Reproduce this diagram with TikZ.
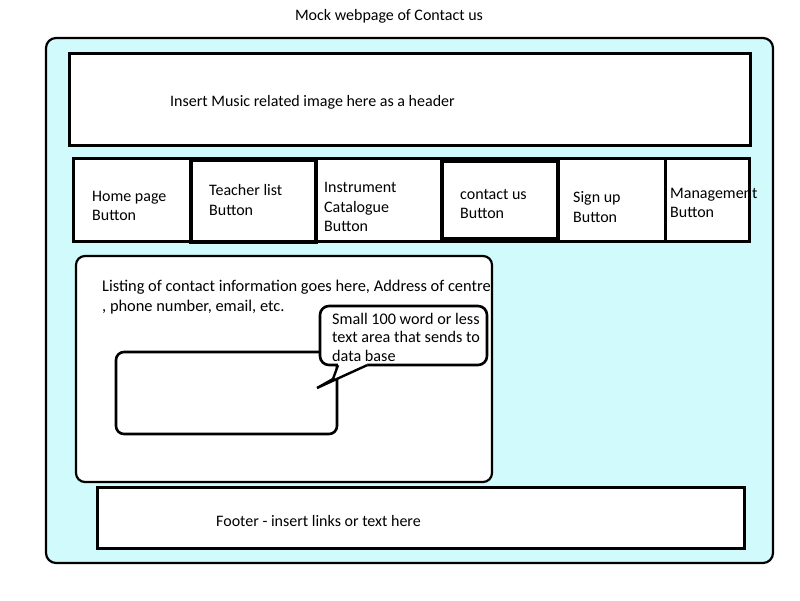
\documentclass[tikz,border=0pt]{standalone}
\usepackage{fontspec}
\setmainfont{Carlito}
\definecolor{pagecyan}{RGB}{208,250,252}
\begin{document}
\begin{tikzpicture}[x=1pt,y=-1pt,
  box/.style={draw=black,fill=white,line width=3pt,anchor=north west,inner sep=0pt,outer sep=0pt},
  thickbox/.style={box,line width=3.6pt},
  roundbox/.style={box,rounded corners=9pt,line width=2.2pt},
  lbl/.style={anchor=west,align=left,inner sep=0pt,font=\fontsize{16}{19.8}\selectfont}
]
\useasboundingbox (0,0) rectangle (800,600);
% outer page
\node[box,fill=pagecyan,rounded corners=10pt,line width=2.2pt,minimum width=727pt,minimum height=525pt] (page) at (46,38) {};
% header
\node[box,minimum width=681pt,minimum height=92pt] (header) at (69,53) {};
% navigation
\node[box,minimum width=676pt,minimum height=83pt] (nav) at (73,158) {};
\node[box,minimum width=118pt,minimum height=83pt] (home) at (73,158) {};
\node[box,minimum width=126pt,minimum height=83pt] (instr) at (316,158) {};
\node[box,minimum width=107pt,minimum height=83pt] (signup) at (558,158) {};
\node[box,minimum width=84pt,minimum height=83pt] (mgmt) at (665,158) {};
\node[thickbox,minimum width=125pt,minimum height=82pt] (teacher) at (191,160) {};
\node[thickbox,minimum width=116pt,minimum height=78pt] (contact) at (442,161) {};
% contact information box
\node[roundbox,minimum width=416pt,minimum height=226pt] (info) at (76,256) {};
% text area
\node[roundbox,line width=2.6pt,rounded corners=8pt,minimum width=221pt,minimum height=82pt] (textarea) at (116,352) {};
% callout
\node[roundbox,line width=2.6pt,rounded corners=9pt,minimum width=167pt,minimum height=59pt] (callout) at (320,306) {};
\fill[white] (338,362) -- (338,366.6) -- (317,388) -- (367,366.6) -- (367,362) -- cycle;
\draw[line width=2.4pt,line join=miter] (338,365.2) -- (333,379) -- (317,388) -- (367,365.2);
% footer
\node[box,minimum width=647pt,minimum height=61pt] (footer) at (97,487) {};
% texts
\node[lbl,anchor=center] (title) at (389,16) {Mock webpage of Contact us};
\node[lbl] (headertext) at (170,102) {Insert Music related image here as a header};
\node[lbl] (hometext) at (92,206) {Home page\\Button};
\node[lbl] (teachertext) at (209,200) {Teacher list\\Button};
\node[lbl] (instrtext) at (324,207) {Instrument\\Catalogue\\Button};
\node[lbl] (contacttext) at (460,204) {contact us\\Button};
\node[lbl] (signuptext) at (573,207) {Sign up\\Button};
\node[lbl] (mgmttext) at (670,203) {Management\\Button};
\node[lbl,font=\fontsize{16.4}{20}\selectfont] (infotext) at (102,297) {Listing of contact information goes here, Address of centre\\, phone number, email, etc.};
\node[lbl,font=\fontsize{16.2}{18.5}\selectfont] (callouttext) at (332,337) {Small 100 word or less\\text area that sends to\\data base};
\node[lbl] (footertext) at (216,521) {Footer - insert links or text here};
\end{tikzpicture}
\end{document}
